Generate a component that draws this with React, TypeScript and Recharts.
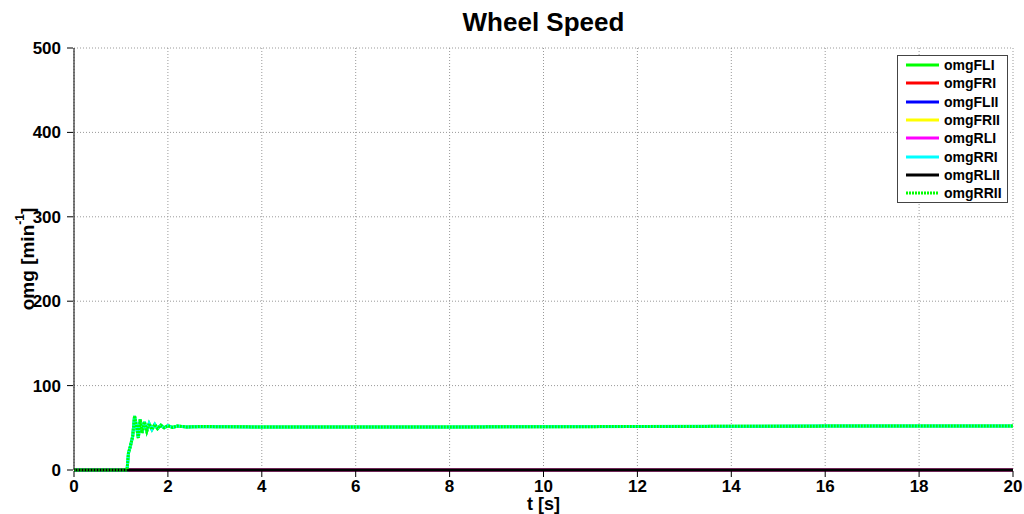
import { LineChart, Line, XAxis, YAxis, CartesianGrid, Legend, Label } from "recharts";

const time = [
  0, 1.13, 1.16, 1.2, 1.25, 1.29, 1.33, 1.37, 1.41, 1.45, 1.5, 1.55, 1.6, 1.66, 1.72, 1.78,
  1.85, 1.92, 2.0, 2.1, 2.2, 2.4, 2.7, 4, 8, 12, 16, 20,
];
const omgSpin = [
  0, 0, 20, 28, 40, 64, 52, 38, 60, 44, 57, 46, 55, 48, 54, 49,
  53, 50, 52.5, 50.5, 52, 51, 51.5, 51, 51, 51.5, 52, 52,
];
const omgZero = time.map(() => 0);

const seriesNames = ["omgFLI", "omgFRI", "omgFLII", "omgFRII", "omgRLI", "omgRRI", "omgRLII", "omgRRII"];
const seriesColors = ["#00ff00", "#ff0000", "#0000ff", "#ffff00", "#ff00ff", "#00ffff", "#000000", "#00ff00"];
const seriesValues = [omgSpin, omgZero, omgZero, omgZero, omgZero, omgSpin, omgZero, omgSpin];

const xTicks = [0, 2, 4, 6, 8, 10, 12, 14, 16, 18, 20];
const yTicks = [0, 100, 200, 300, 400, 500];

const data = time.map((t, i) => {
  const row: Record<string, number> = { t };
  seriesNames.forEach((name, k) => {
    row[name] = seriesValues[k][i];
  });
  return row;
});

const font = "'Liberation Sans', Arial, sans-serif";

function XTick(props: any) {
  const { x, y, payload } = props;
  return (
    <g>
      <line x1={x} x2={x} y1={y - 1} y2={y - 7} stroke="#000" />
      <text x={x} y={y + 14} textAnchor="middle" fontFamily={font} fontWeight="bold" fontSize={17} fill="#000">
        {payload.value}
      </text>
    </g>
  );
}

function YTick(props: any) {
  const { x, y, payload } = props;
  return (
    <g>
      <line x1={x + 1} x2={x + 7} y1={y} y2={y} stroke="#000" />
      <text x={x - 5} y={y + 6} textAnchor="end" fontFamily={font} fontWeight="bold" fontSize={17} fill="#000">
        {payload.value}
      </text>
    </g>
  );
}

function XLabel(props: any) {
  const { viewBox } = props;
  return (
    <text
      x={viewBox.x + viewBox.width / 2}
      y={510}
      textAnchor="middle"
      fontFamily={font}
      fontWeight="bold"
      fontSize={18}
      fill="#000"
    >
      t [s]
    </text>
  );
}

function YLabel(props: any) {
  const { viewBox } = props;
  const cx = 27;
  const cy = viewBox.y + viewBox.height / 2;
  return (
    <text
      x={cx}
      y={cy}
      transform={`rotate(-90, ${cx}, ${cy})`}
      textAnchor="middle"
      dominantBaseline="central"
      fontFamily={font}
      fontWeight="bold"
      fontSize={19}
      fill="#000"
    >
      omg [min
      <tspan fontSize={12} dy={-7}>-1</tspan>
      <tspan dy={7}>]</tspan>
    </text>
  );
}

function LegendBox() {
  return (
    <div
      style={{
        border: "1px solid #444",
        background: "#fff",
        width: 109,
        fontFamily: font,
        fontWeight: "bold",
        fontSize: 14,
      }}
    >
      {seriesNames.map((name, k) => (
        <div key={name} style={{ display: "flex", alignItems: "center", height: 18.3 }}>
          <svg width={46} height={10}>
            <line
              x1={8}
              x2={41}
              y1={5}
              y2={5}
              stroke={seriesColors[k]}
              strokeWidth={3}
              strokeDasharray={name === "omgRRII" ? "2 1" : undefined}
            />
          </svg>
          <span style={{ color: "#000" }}>{name}</span>
        </div>
      ))}
    </div>
  );
}

export default function App() {
  return (
    <div style={{ position: "absolute", left: 0, top: 0, width: 1024, height: 514, background: "#fff" }}>
      <div
        style={{
          position: "absolute",
          left: 74,
          width: 939,
          top: 7,
          textAlign: "center",
          fontFamily: font,
          fontWeight: "bold",
          fontSize: 26,
        }}
      >
        Wheel Speed
      </div>
      <LineChart width={1024} height={514} data={data} margin={{ top: 48, right: 11, bottom: 0, left: 0 }}>
        <CartesianGrid stroke="#999" strokeDasharray="1 2" />
        <XAxis
          dataKey="t"
          type="number"
          domain={[0, 20]}
          ticks={xTicks}
          height={44}
          tick={<XTick />}
          tickLine={false}
          axisLine={{ stroke: "#000", strokeWidth: 1 }}
          interval={0}
        >
          <Label content={<XLabel />} />
        </XAxis>
        <YAxis
          type="number"
          domain={[0, 500]}
          ticks={yTicks}
          width={74}
          tick={<YTick />}
          tickLine={false}
          axisLine={{ stroke: "#000", strokeWidth: 1 }}
          interval={0}
        >
          <Label content={<YLabel />} />
        </YAxis>
        <Legend
          content={<LegendBox />}
          layout="horizontal"
          verticalAlign="middle"
          align="center"
          wrapperStyle={{ position: "absolute", left: 897, top: 55, width: 111 }}
        />
        {seriesNames.map((name, k) => (
          <Line
            key={name}
            dataKey={name}
            stroke={seriesColors[k]}
            strokeWidth={3}
            strokeDasharray={name === "omgRRII" ? "2 1" : undefined}
            dot={false}
            activeDot={false}
            isAnimationActive={false}
            type="linear"
          />
        ))}
      </LineChart>
    </div>
  );
}
